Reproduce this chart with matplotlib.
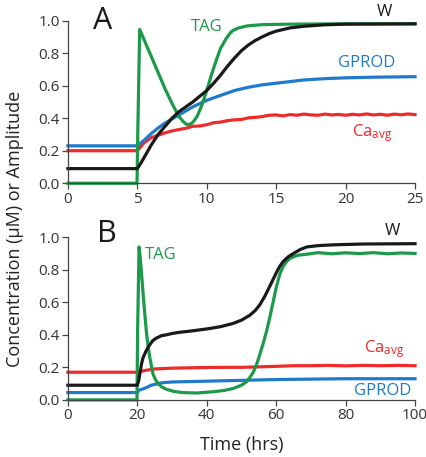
import matplotlib
matplotlib.use("Agg")
import matplotlib.pyplot as plt

plt.rcParams['font.family'] = ['Open Sans', 'DejaVu Sans']
plt.rcParams['mathtext.default'] = 'regular'

# Panel A data (time in hrs)
a_tag_t = [0, 4.98, 5.03, 5.17, 5.5, 6, 6.5, 7, 7.5, 8, 8.3, 8.5, 8.65, 8.85, 9.0, 9.3,
           9.6, 10, 10.35, 10.7, 11.0, 11.4, 11.7, 11.9, 12.3, 12.9, 14, 16, 20, 25]
a_tag = [0, 0, 0.3, 0.945, 0.88, 0.78, 0.68, 0.58, 0.49, 0.41, 0.38, 0.365, 0.36, 0.365,
         0.375, 0.41, 0.47, 0.57, 0.67, 0.76, 0.83, 0.89, 0.925, 0.94, 0.955, 0.967,
         0.975, 0.978, 0.98, 0.98]

a_w_t = [0, 5, 5.3, 5.6, 6, 6.5, 7, 7.5, 8, 8.5, 9, 9.5, 10, 10.5, 11, 11.5, 12, 12.5,
         13, 13.5, 14, 14.5, 15, 16, 17, 18.5, 20, 25]
a_w = [0.09, 0.09, 0.13, 0.175, 0.235, 0.30, 0.35, 0.40, 0.44, 0.47, 0.50, 0.535, 0.57,
       0.615, 0.665, 0.72, 0.77, 0.815, 0.85, 0.878, 0.90, 0.92, 0.935, 0.955, 0.965,
       0.974, 0.978, 0.98]

a_gp_t = [0, 5, 5.5, 6, 6.5, 7, 8, 9, 10, 11, 12, 13, 14, 15, 16, 17, 18.5, 20, 22, 25]
a_gp = [0.23, 0.23, 0.265, 0.305, 0.34, 0.37, 0.42, 0.47, 0.51, 0.54, 0.57, 0.59, 0.605,
        0.615, 0.625, 0.635, 0.643, 0.648, 0.652, 0.655]

a_ca_t = [0, 5.0, 5.5, 6, 6.5, 7, 7.5, 8, 8.5, 9, 9.5, 10, 10.5, 11, 11.5, 12, 12.5, 13,
          13.5, 14, 14.5, 15, 15.5, 16, 16.5, 17, 17.5, 18, 18.5, 19, 19.5, 20, 20.5, 21,
          21.5, 22, 22.5, 23, 23.5, 24, 24.5, 25]
a_ca = [0.2, 0.2, 0.25, 0.28, 0.295, 0.31, 0.322, 0.33, 0.338, 0.35, 0.352, 0.36, 0.372,
        0.376, 0.385, 0.39, 0.392, 0.402, 0.405, 0.41, 0.418, 0.42, 0.414, 0.422, 0.418,
        0.425, 0.42, 0.418, 0.425, 0.42, 0.423, 0.418, 0.424, 0.42, 0.426, 0.42, 0.424,
        0.418, 0.425, 0.421, 0.426, 0.422]

# Panel B data
b_tag_t = [0, 19.9, 20.1, 20.5, 20.8, 21.2, 21.6, 22.1, 22.6, 23.1, 23.6, 24.5, 25.2, 26,
           27, 28.4, 30.5, 33, 37, 41.8, 45, 47.6, 50, 51.4, 52.5, 53.4, 54.4, 55.3, 56.3,
           57.2, 58.2, 59.1, 60, 61, 62, 63, 64, 65, 66.5, 68.8, 72, 76, 80, 84, 88, 92,
           96, 100]
b_tag = [0, 0, 0.45, 0.94, 0.88, 0.78, 0.67, 0.54, 0.42, 0.33, 0.26, 0.16, 0.125, 0.10,
         0.08, 0.065, 0.052, 0.045, 0.042, 0.05, 0.058, 0.07, 0.09, 0.11, 0.14, 0.17,
         0.22, 0.28, 0.35, 0.42, 0.51, 0.60, 0.69, 0.77, 0.82, 0.85, 0.87, 0.88, 0.89,
         0.895, 0.905, 0.898, 0.904, 0.899, 0.905, 0.898, 0.903, 0.9]

b_w_t = [0, 20, 20.4, 20.8, 21.2, 21.6, 22.5, 23.6, 24.5, 25.5, 27, 28.4, 30, 32, 35, 40,
         44, 47.6, 50, 52.4, 54, 55.3, 56.8, 58.2, 60, 61, 62, 63.5, 65, 67, 68.8, 72,
         76.4, 85, 100]
b_w = [0.09, 0.09, 0.12, 0.17, 0.22, 0.256, 0.30, 0.34, 0.365, 0.38, 0.395, 0.40, 0.408,
       0.415, 0.422, 0.436, 0.45, 0.47, 0.49, 0.52, 0.55, 0.585, 0.64, 0.70, 0.78, 0.82,
       0.85, 0.88, 0.90, 0.925, 0.94, 0.948, 0.953, 0.958, 0.96]

b_gp_t = [0, 20, 20.5, 22, 24, 27, 30, 40, 60, 80, 100]
b_gp = [0.045, 0.045, 0.06, 0.07, 0.09, 0.105, 0.11, 0.115, 0.125, 0.13, 0.13]

b_ca_t = [0, 20, 22, 25, 30, 35, 40, 45, 50, 55, 60, 65, 70, 75, 80, 85, 90, 95, 100]
b_ca = [0.17, 0.17, 0.18, 0.19, 0.195, 0.197, 0.199, 0.2, 0.2, 0.203, 0.206, 0.21, 0.21,
        0.212, 0.209, 0.212, 0.21, 0.212, 0.21]

green = '#1c9a4a'
black = '#1a1a1a'
blue = '#1f7acb'
red = '#ee2a2a'
lw = 2.3

fig = plt.figure(figsize=(4.27, 4.57), dpi=100)
ax1 = fig.add_axes([0.159, 0.599, 0.813, 0.356])
ax2 = fig.add_axes([0.159, 0.125, 0.813, 0.356])


def style(ax, xmax, xticks):
    ax.set_xlim(0, xmax)
    ax.set_ylim(0, 1.0)
    ax.set_xticks(xticks)
    ax.set_yticks([0, 0.2, 0.4, 0.6, 0.8, 1.0])
    ax.set_yticklabels(['0.0', '0.2', '0.4', '0.6', '0.8', '1.0'])
    for s in ['top', 'right']:
        ax.spines[s].set_visible(False)
    for s in ['left', 'bottom']:
        ax.spines[s].set_color('#444444')
        ax.spines[s].set_linewidth(0.9)
    ax.tick_params(direction='out', length=4, width=0.9, colors='#444444',
                   labelsize=11, labelcolor='#333333', pad=2)


# Panel A
ax1.plot(a_ca_t, a_ca, color=red, lw=lw, clip_on=False)
ax1.plot(a_gp_t, a_gp, color=blue, lw=lw, clip_on=False)
ax1.plot(a_tag_t, a_tag, color=green, lw=lw, clip_on=False)
ax1.plot(a_w_t, a_w, color=black, lw=lw, clip_on=False)
style(ax1, 25, [0, 5, 10, 15, 20, 25])
ax1.text(2.5, 1.0, 'A', fontsize=22, ha='center', va='center', color=black)
ax1.text(10.0, 0.96, 'TAG', fontsize=12, ha='center', va='center', color=green)
ax1.text(22.8, 1.05, 'W', fontsize=12, ha='center', va='center', color=black)
ax1.text(21.5, 0.74, 'GPROD', fontsize=12, ha='center', va='center', color=blue)
ax1.text(21.9, 0.31, r'Ca$_{avg}$', fontsize=12, ha='center', va='center', color=red)

# Panel B
ax2.plot(b_ca_t, b_ca, color=red, lw=lw, clip_on=False)
ax2.plot(b_gp_t, b_gp, color=blue, lw=lw, clip_on=False)
ax2.plot(b_tag_t, b_tag, color=green, lw=lw, clip_on=False)
ax2.plot(b_w_t, b_w, color=black, lw=lw, clip_on=False)
style(ax2, 100, [0, 20, 40, 60, 80, 100])
ax2.text(11.3, 1.02, 'B', fontsize=22, ha='center', va='center', color=black)
ax2.text(26.8, 0.89, 'TAG', fontsize=12, ha='center', va='center', color=green)
ax2.text(93.4, 1.035, 'W', fontsize=12, ha='center', va='center', color=black)
ax2.text(91.0, 0.31, r'Ca$_{avg}$', fontsize=12, ha='center', va='center', color=red)
ax2.text(90.8, 0.057, 'GPROD', fontsize=12, ha='center', va='center', color=blue)
ax2.set_xlabel('Time (hrs)', fontsize=13, color='#222222', labelpad=9)

fig.text(0.035, 0.5, u'Concentration (\u03bcM) or Amplitude', rotation=90, fontsize=13,
         ha='center', va='center', color='#222222')

fig.savefig('out.png', dpi=100)
